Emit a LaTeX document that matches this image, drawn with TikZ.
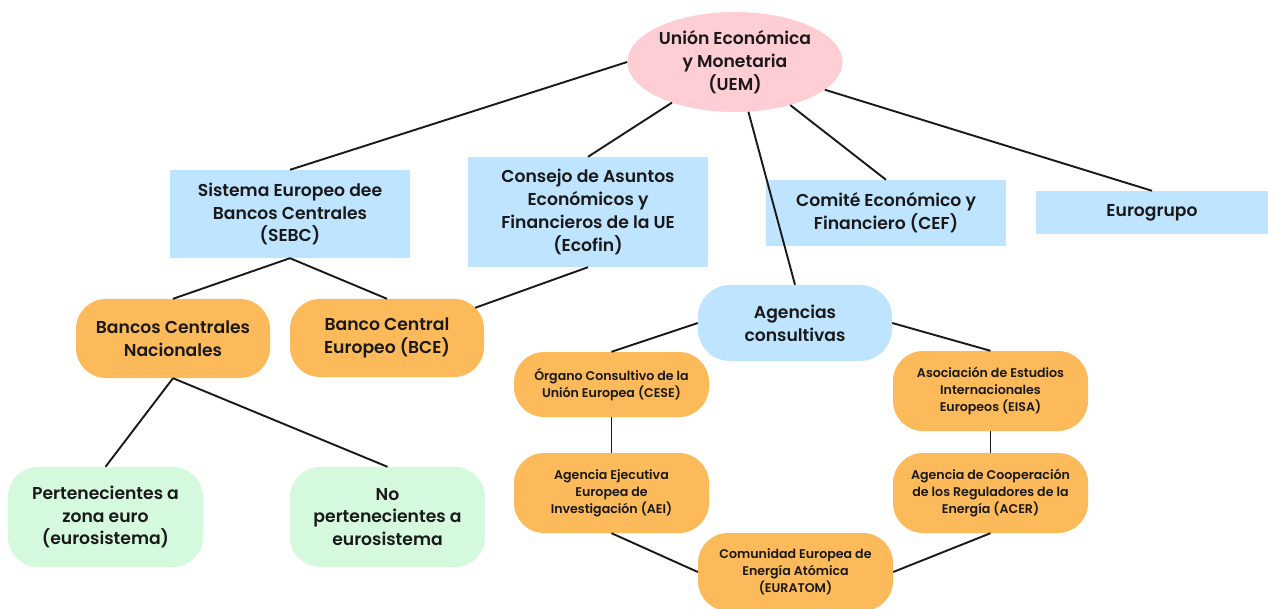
\documentclass[tikz,border=0pt]{standalone}
\usepackage{fontspec}
\setmainfont{Poppins}[UprightFont=* SemiBold]
\usetikzlibrary{shapes.geometric,calc}
\definecolor{uempink}{RGB}{255,205,212}
\definecolor{boxblue}{RGB}{190,228,255}
\definecolor{boxorange}{RGB}{253,186,90}
\definecolor{boxgreen}{RGB}{213,249,220}
\definecolor{linkdark}{RGB}{25,25,25}
\tikzset{
  txt/.style={align=center, text=black!90, inner sep=0pt,
    font=\fontsize{17.2}{22.8}\selectfont},
  smalltxt/.style={align=center, text=black!90, inner sep=0pt,
    font=\fontsize{12.6}{16.8}\selectfont},
  bluebox/.style={txt, rectangle, fill=boxblue},
  orangepill/.style={txt, rectangle, rounded corners=30pt, fill=boxorange},
  smallpill/.style={smalltxt, rectangle, rounded corners=30pt, fill=boxorange},
  greenpill/.style={txt, rectangle, rounded corners=30pt, fill=boxgreen},
  bluepill/.style={txt, rectangle, rounded corners=32pt, fill=boxblue},
  link/.style={draw=linkdark, line width=1.9pt}
}
\begin{document}
\begin{tikzpicture}[x=1pt,y=-1pt]
\useasboundingbox[fill=white] (0,0) rectangle (1268,609);

% top node
\node[txt, ellipse, fill=uempink, minimum width=210pt, minimum height=100pt]
  (uem) at (735,62) {Unión Económica\\y Monetaria\\(UEM)};

% second level
\node[bluebox, minimum width=240pt, minimum height=88pt] (sebc) at (290,214)
  {Sistema Europeo dee\\Bancos Centrales\\(SEBC)};
\node[bluebox, minimum width=240pt, minimum height=110pt] (ecofin) at (588,212)
  {Consejo de Asuntos\\Económicos y\\Financieros de la UE\\(Ecofin)};
\node[bluebox, minimum width=240pt, minimum height=66pt] (cef) at (886,213)
  {Comité Económico y\\Financiero (CEF)};
\node[bluebox, minimum width=232pt, minimum height=43pt] (euro) at (1152,212.5)
  {Eurogrupo};

% banks
\node[orangepill, minimum width=194pt, minimum height=79pt] (bcn) at (173,338.5)
  {Bancos Centrales\\Nacionales};
\node[orangepill, minimum width=194pt, minimum height=78pt] (bce) at (387,338)
  {Banco Central\\Europeo (BCE)};
\node[greenpill, minimum width=195pt, minimum height=100pt] (pert) at (105.5,517)
  {Pertenecientes a\\zona euro\\(eurosistema)};
\node[greenpill, minimum width=195pt, minimum height=100pt] (nopert) at (387.5,517)
  {No\\pertenecientes a\\eurosistema};

% advisory agencies
\node[bluepill, minimum width=194pt, minimum height=76pt] (agen) at (795,323)
  {Agencias\\consultivas};
\node[smallpill, minimum width=195pt, minimum height=65pt] (cese) at (611.5,384.5)
  {Órgano Consultivo de la\\Unión Europea (CESE)};
\node[smallpill, minimum width=195pt, minimum height=80pt] (aei) at (611.5,493)
  {Agencia Ejecutiva\\Europea de\\Investigación (AEI)};
\node[smallpill, minimum width=195pt, minimum height=80pt] (eisa) at (990.5,391)
  {Asociación de Estudios\\Internacionales\\Europeos (EISA)};
\node[smallpill, minimum width=195pt, minimum height=80pt] (acer) at (990.5,493)
  {Agencia de Cooperación\\de los Reguladores de la\\Energía (ACER)};
\node[smallpill, minimum width=195pt, minimum height=78pt] (euratom) at (795.5,572)
  {Comunidad Europea de\\Energía Atómica\\(EURATOM)};

% connectors
\draw[link] (uem.west) -- (sebc.north);
\draw[link] (uem) -- (ecofin.north);
\draw[link] (uem) -- (agen.north);
\draw[link] (uem) -- (cef.north);
\draw[link] (uem) -- (euro.north);
\draw[link] (sebc.south) -- (bcn.north);
\draw[link] (sebc.south) -- (bce.north);
\draw[link] (ecofin.south) -- ($(bce.north east)+(-9,9)$);
\draw[link] (bcn.south) -- (pert.north);
\draw[link] (bcn.south) -- (nopert.north);
\draw[link] (agen.west) -- (cese.north);
\draw[link] (agen.east) -- (eisa.north);
\draw[link] (cese.south) -- (aei.north);
\draw[link] (eisa.south) -- (acer.north);
\draw[link] (aei.south) -- (euratom.west);
\draw[link] (acer.south) -- (euratom.east);
\end{tikzpicture}
\end{document}
